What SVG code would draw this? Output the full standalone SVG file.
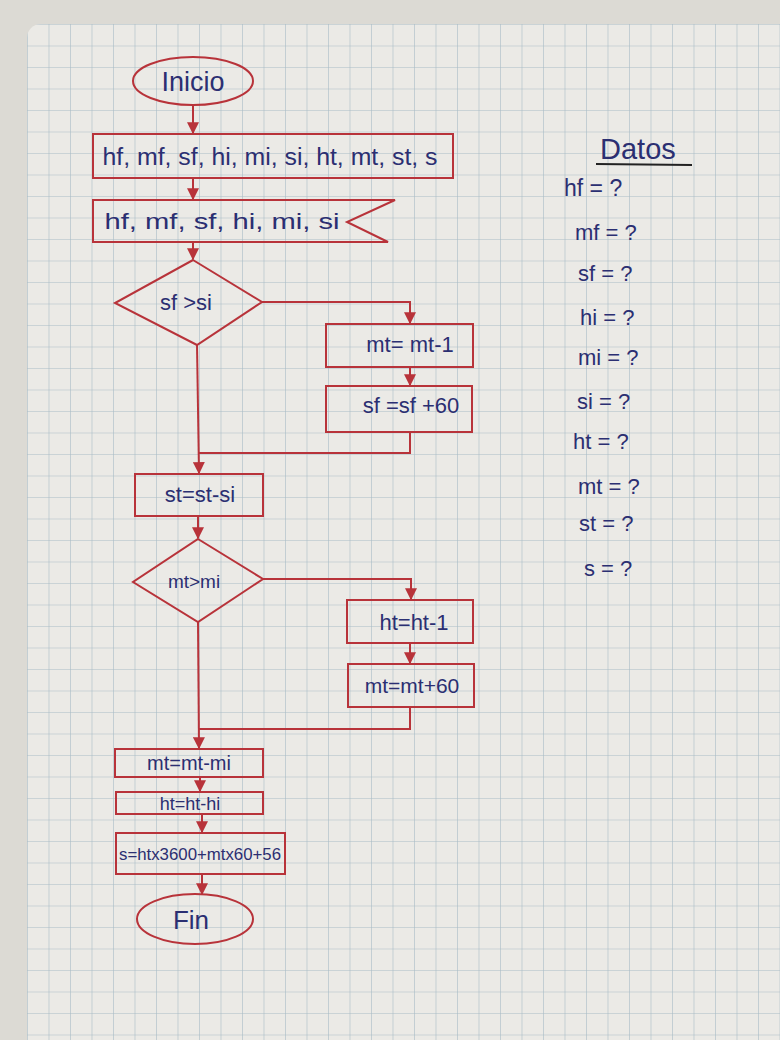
<svg xmlns="http://www.w3.org/2000/svg" width="780" height="1040" viewBox="0 0 780 1040">
<defs>
<style>
.shape{fill:none;stroke:#b8333a;stroke-width:2}
.conn{fill:none;stroke:#b8333a;stroke-width:2}
.t{font-family:"Liberation Sans",Arial,sans-serif;fill:#2b2f72;text-anchor:middle}
.d{font-family:"Liberation Sans",Arial,sans-serif;fill:#2b2f72}
</style>
<marker id="ah" viewBox="0 0 10 10" refX="9" refY="5" markerWidth="6" markerHeight="6" orient="auto" markerUnits="strokeWidth">
<path d="M0,0 L10,5 L0,10 Z" fill="#b8333a"/>
</marker>
<pattern id="grid" x="27" y="24" width="21.5" height="21.5" patternUnits="userSpaceOnUse">
<path d="M0,0 H21.5 M0,0 V21.5" fill="none" stroke="#a9bcc6" stroke-width="1.2"/>
</pattern>
</defs>
<rect x="0" y="0" width="780" height="1040" fill="#dcdad4"/>
<rect x="27" y="24" width="770" height="1030" rx="14" fill="#ebeae6"/>
<rect x="27" y="24" width="770" height="1030" rx="14" fill="url(#grid)"/>

<g id="connectors">
<line class="conn" x1="193" y1="105" x2="193" y2="133" marker-end="url(#ah)"/>
<line class="conn" x1="193" y1="178" x2="193" y2="199" marker-end="url(#ah)"/>
<line class="conn" x1="193" y1="242" x2="193" y2="259" marker-end="url(#ah)"/>
<polyline class="conn" points="262,302 410,302 410,323" marker-end="url(#ah)"/>
<line class="conn" x1="410" y1="367" x2="410" y2="385" marker-end="url(#ah)"/>
<polyline class="conn" points="410,432 410,453 198,453"/>
<polyline class="conn" points="197,345 199,473" marker-end="url(#ah)"/>
<line class="conn" x1="198" y1="516" x2="198" y2="538" marker-end="url(#ah)"/>
<polyline class="conn" points="263,579 411,579 411,599" marker-end="url(#ah)"/>
<line class="conn" x1="410" y1="643" x2="410" y2="663" marker-end="url(#ah)"/>
<polyline class="conn" points="410,707 410,729 199,729"/>
<polyline class="conn" points="198,622 199,748" marker-end="url(#ah)"/>
<line class="conn" x1="200" y1="777" x2="200" y2="791" marker-end="url(#ah)"/>
<line class="conn" x1="202" y1="814" x2="202" y2="832" marker-end="url(#ah)"/>
<line class="conn" x1="202" y1="874" x2="202" y2="894" marker-end="url(#ah)"/>
</g>

<g id="inicio">
<ellipse class="shape" cx="193" cy="81" rx="60" ry="24"/>
<text class="t" x="193" y="91" style="font-size:27px">Inicio</text>
</g>
<g id="declare">
<rect class="shape" x="93" y="134" width="360" height="44"/>
<text class="t" x="270" y="165" style="font-size:23px" textLength="335" lengthAdjust="spacingAndGlyphs">hf, mf, sf, hi, mi, si, ht, mt, st, s</text>
</g>
<g id="input">
<polygon class="shape" points="93,200 395,200 347,222 388,242 93,242"/>
<text class="t" x="222" y="229" style="font-size:22px" textLength="235" lengthAdjust="spacingAndGlyphs">hf, mf, sf, hi, mi, si</text>
</g>
<g id="cond1">
<polygon class="shape" points="193,260 262,302 197,345 115,303"/>
<text class="t" x="186" y="310" style="font-size:22px">sf &gt;si</text>
</g>
<g id="mt_dec">
<rect class="shape" x="326" y="324" width="147" height="43"/>
<text class="t" x="410" y="352" style="font-size:22px">mt= mt-1</text>
</g>
<g id="sf_add">
<rect class="shape" x="326" y="386" width="146" height="46"/>
<text class="t" x="411" y="413" style="font-size:22px">sf =sf +60</text>
</g>
<g id="st_calc">
<rect class="shape" x="135" y="474" width="128" height="42"/>
<text class="t" x="200" y="502" style="font-size:22px">st=st-si</text>
</g>
<g id="cond2">
<polygon class="shape" points="198,539 263,579 198,622 133,582"/>
<text class="t" x="194" y="588" style="font-size:19px">mt&gt;mi</text>
</g>
<g id="ht_dec">
<rect class="shape" x="347" y="600" width="126" height="43"/>
<text class="t" x="414" y="630" style="font-size:22px">ht=ht-1</text>
</g>
<g id="mt_add">
<rect class="shape" x="348" y="664" width="126" height="43"/>
<text class="t" x="412" y="693" style="font-size:21px">mt=mt+60</text>
</g>
<g id="mt_calc">
<rect class="shape" x="115" y="749" width="148" height="28"/>
<text class="t" x="189" y="770" style="font-size:20px">mt=mt-mi</text>
</g>
<g id="ht_calc">
<rect class="shape" x="116" y="792" width="147" height="22"/>
<text class="t" x="190" y="810" style="font-size:18px">ht=ht-hi</text>
</g>
<g id="s_calc">
<rect class="shape" x="116" y="833" width="169" height="41"/>
<text class="t" x="200" y="860" style="font-size:17px" textLength="162" lengthAdjust="spacingAndGlyphs">s=htx3600+mtx60+56</text>
</g>
<g id="fin">
<ellipse class="shape" cx="195" cy="919" rx="58" ry="25"/>
<text class="t" x="191" y="929" style="font-size:26px">Fin</text>
</g>

<g id="datos">
<text class="d" x="600" y="159" style="font-size:29px">Datos</text>
<line x1="596" y1="164" x2="692" y2="165" stroke="#222" stroke-width="1.8"/>
<text class="d" x="564" y="196" style="font-size:23px">hf = ?</text>
<text class="d" x="575" y="240" style="font-size:22px">mf = ?</text>
<text class="d" x="578" y="281" style="font-size:22px">sf = ?</text>
<text class="d" x="580" y="325" style="font-size:22px">hi = ?</text>
<text class="d" x="578" y="365" style="font-size:22px">mi = ?</text>
<text class="d" x="577" y="409" style="font-size:22px">si = ?</text>
<text class="d" x="573" y="449" style="font-size:22px">ht = ?</text>
<text class="d" x="578" y="494" style="font-size:22px">mt = ?</text>
<text class="d" x="579" y="531" style="font-size:22px">st = ?</text>
<text class="d" x="584" y="576" style="font-size:22px">s = ?</text>
</g>
</svg>
